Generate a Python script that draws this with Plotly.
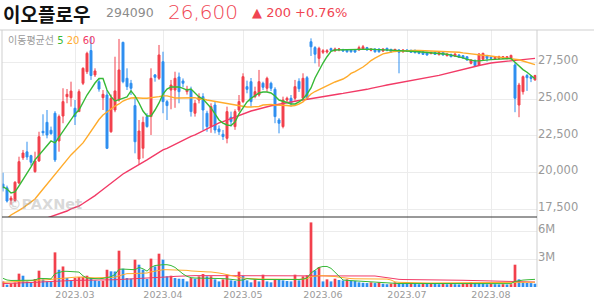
import plotly.graph_objects as go
import pandas as pd

# ---------------- data ----------------
krx_holidays = ["2023-03-01", "2023-05-01", "2023-05-05", "2023-05-29", "2023-06-06", "2023-08-15"]
dates = [d.strftime("%Y-%m-%d") for d in pd.bdate_range("2023-02-03", "2023-08-17")
         if d.strftime("%Y-%m-%d") not in krx_holidays]

month_start_dates = ["2023-03-02", "2023-04-03", "2023-05-02", "2023-06-01", "2023-07-03", "2023-08-01"]
month_labels = ["2023.03", "2023.04", "2023.05", "2023.06", "2023.07", "2023.08"]

open_ = [
    19200, 18950, 18100, 18080, 19280, 21000, 21400, 21140, 20050, 20780,
    22800, 23410, 22870, 24030, 22140, 23840, 25160, 25090, 24370, 24140,
    26070, 26860, 28300, 26640, 26180, 25090, 25270, 22770, 24250, 24930,
    28860, 26410, 26070, 24550, 20910, 21640, 23800, 23800, 26640, 26410,
    27540, 24820, 25610, 25610, 26500, 26230, 25500, 25610, 24030, 24930,
    25160, 24030, 23120, 24590, 22960, 22600, 22320, 23760, 23120, 24250,
    24820, 25840, 26180, 25160, 25270, 26070, 25730, 26070, 25660, 23570,
    23120, 24930, 25050, 25050, 26200, 25050, 26450, 28900, 28500, 27770,
    28180, 28200, 28430, 28290, 28340, 28360, 28340, 28330, 28320, 28340,
    28400, 28500, 28320, 28410, 28400, 28270, 28450, 28380, 28290, 28340,
    28220, 28340, 28320, 28320, 28270, 28220, 28180, 28090, 28180, 28040,
    28180, 27950, 28040, 27920, 28000, 27950, 27880, 27430, 27610, 27320,
    27700, 27930, 27840, 27750, 27770, 27780, 27770, 27770, 27320, 24590,
    25500, 26600, 26520, 26300]
high = [
    19980, 19100, 18400, 19400, 21070, 21530, 22090, 21200, 21410, 22770,
    23960, 24250, 23120, 24170, 23940, 25730, 25680, 26180, 24930, 25660,
    27160, 28220, 29240, 27090, 26410, 25610, 25610, 25300, 27880, 29090,
    28900, 27090, 26300, 25050, 23570, 23800, 24030, 27090, 26700, 28680,
    28220, 24930, 26300, 26860, 26800, 26400, 25900, 25840, 24930, 25390,
    25390, 24200, 24710, 24800, 23200, 22890, 24480, 24140, 24300, 25270,
    26750, 26250, 26430, 25840, 26980, 26180, 26520, 26180, 25800, 23700,
    25160, 25160, 25270, 26300, 26410, 26750, 26570, 29130, 28600, 28560,
    28400, 28400, 28500, 28500, 28450, 28420, 28400, 28380, 28380, 28630,
    28680, 28550, 28450, 28450, 28450, 28450, 28500, 28420, 28420, 28400,
    28400, 28380, 28350, 28350, 28300, 28250, 28200, 28220, 28200, 28250,
    28200, 28100, 28080, 28100, 28050, 27980, 27900, 27700, 27700, 28110,
    28150, 28000, 27900, 27900, 27950, 27920, 27920, 28020, 27500, 26100,
    26600, 26700, 26600, 26650]
low = [
    18700, 17950, 17800, 18000, 19200, 20850, 20850, 20460, 19980, 20710,
    22500, 22320, 22560, 20710, 21410, 23350, 24710, 24480, 23230, 24140,
    25950, 26700, 26300, 26500, 25500, 24250, 21590, 22700, 24100, 24820,
    26070, 25610, 25270, 21300, 20550, 20960, 23050, 22550, 26180, 26300,
    24030, 23570, 24300, 24400, 24710, 25800, 25300, 23800, 23800, 24700,
    22890, 22770, 22700, 22660, 22550, 22210, 21980, 23120, 22900, 24110,
    24730, 25390, 24480, 25050, 25160, 25610, 25500, 25540, 23350, 22660,
    23000, 24800, 24480, 24900, 25480, 24930, 24930, 27930, 27430, 27200,
    28070, 28100, 28250, 28200, 28250, 28200, 28150, 28150, 28150, 28300,
    28350, 28300, 28250, 28150, 28150, 28200, 28250, 28150, 28200, 26750,
    28150, 28200, 28150, 28100, 28050, 28000, 27950, 28050, 28000, 27950,
    27950, 27900, 27850, 27880, 27800, 27750, 27600, 27360, 27200, 27300,
    27650, 27550, 27700, 27700, 27700, 27720, 27700, 27700, 24100, 23760,
    25300, 25550, 26150, 26250]
close = [
    18950, 18050, 18250, 19330, 20730, 21320, 21050, 20690, 20780, 22430,
    22700, 22550, 22640, 20850, 23800, 24820, 25320, 25540, 23800, 25500,
    27090, 28110, 26600, 26910, 25680, 25320, 21640, 25050, 25550, 26980,
    26180, 25840, 25730, 22090, 22820, 23410, 23120, 26410, 26480, 28000,
    24820, 24550, 25950, 26410, 25500, 26070, 25660, 24140, 24710, 25160,
    24250, 23120, 24480, 22890, 22770, 22440, 24140, 23460, 24140, 24820,
    26520, 25660, 24820, 25500, 26180, 25800, 26410, 25730, 23800, 23350,
    24930, 25050, 24710, 25840, 25700, 26410, 25050, 28560, 28050, 28450,
    28290, 28290, 28320, 28410, 28410, 28270, 28220, 28220, 28200, 28500,
    28560, 28340, 28400, 28220, 28220, 28410, 28320, 28220, 28380, 28180,
    28340, 28250, 28180, 28160, 28110, 28040, 28000, 28180, 28040, 28180,
    28000, 28070, 27880, 28070, 27840, 27790, 27660, 27660, 27270, 28070,
    28110, 27770, 27770, 27840, 27880, 27880, 27880, 27970, 25050, 25950,
    26520, 26450, 26400, 26600]

# moving averages of price
ma5 = [
    19010, 18870, 18600, 18670, 19080, 19480, 19960, 20370, 20850, 21190,
    21460, 21800, 22140, 22010, 22410, 22750, 23230, 23640, 23980, 24250,
    24800, 25270, 25680, 26090, 26400, 26400, 25610, 25160, 24860, 24970,
    25070, 25140, 25550, 25210, 24730, 24180, 23840, 23840, 24250, 24730,
    25340, 25680, 25820, 25840, 25820, 25730, 25610, 25680, 25410, 25140,
    25000, 24730, 24390, 23980, 23570, 23360, 23230, 23190, 23430, 23980,
    24390, 24800, 25040, 25210, 25410, 25480, 25480, 25410, 25210, 24930,
    24820, 24760, 24660, 24660, 24800, 25000, 25340, 25750, 26430, 26980,
    27450, 27880, 28240, 28340, 28350, 28360, 28370, 28380, 28390, 28400,
    28420, 28410, 28400, 28380, 28370, 28360, 28360, 28350, 28340, 28320,
    28300, 28280, 28260, 28240, 28220, 28200, 28160, 28140, 28120, 28100,
    28080, 28050, 27990, 27940, 27880, 27800, 27700, 27640, 27600, 27600,
    27640, 27660, 27680, 27700, 27720, 27730, 27740, 27760, 27500, 27250,
    27000, 26820, 26580, 26380]
ma20 = [
    16750, 16850, 17100, 17240, 17410, 17580, 17780, 17990, 18190, 18530,
    18870, 19210, 19550, 19890, 20230, 20580, 20850, 21190, 21460, 21730,
    22010, 22410, 22820, 23230, 23600, 23910, 24120, 24290, 24520, 24660,
    24860, 24970, 25070, 25090, 25050, 25050, 25050, 25070, 25100, 25160,
    25210, 25210, 25140, 25070, 25070, 25070, 25070, 25100, 25090, 25000,
    25000, 24930, 24880, 24830, 24760, 24730, 24710, 24660, 24590, 24520,
    24480, 24460, 24460, 24460, 24490, 24590, 24630, 24630, 24590, 24590,
    24590, 24560, 24520, 24560, 24660, 24800, 25070, 25340, 25510, 25650,
    25750, 25890, 26020, 26160, 26260, 26360, 26520, 26740, 26870, 27010,
    27180, 27380, 27620, 27790, 27930, 28070, 28130, 28200, 28240, 28270,
    28290, 28300, 28300, 28300, 28300, 28290, 28290, 28280, 28280, 28270,
    28260, 28240, 28220, 28200, 28180, 28140, 28100, 28070, 28040, 28010,
    27980, 27960, 27930, 27900, 27870, 27840, 27810, 27780, 27740, 27670,
    27590, 27500, 27420, 27340]
ma60 = [
    None, None, None, None, None, None, None, None, None, None,
    16800, 16900, 16980, 17050, 17170, 17260, 17370, 17510, 17610, 17710,
    17880, 18050, 18220, 18420, 18630, 18840, 19080, 19280, 19480, 19690,
    19890, 20050, 20200, 20370, 20540, 20710, 20850, 21020, 21190, 21360,
    21530, 21640, 21780, 21900, 22070, 22210, 22310, 22450, 22550, 22690,
    22820, 22960, 23090, 23230, 23370, 23460, 23570, 23670, 23770, 23880,
    23980, 24080, 24180, 24250, 24330, 24420, 24480, 24540, 24590, 24650,
    24690, 24750, 24800, 24840, 24900, 24930, 24980, 25020, 25070, 25120,
    25170, 25220, 25260, 25300, 25340, 25380, 25420, 25480, 25530, 25570,
    25610, 25660, 25720, 25760, 25820, 25890, 25950, 26000, 26060, 26090,
    26140, 26180, 26230, 26270, 26320, 26380, 26430, 26460, 26530, 26610,
    26680, 26740, 26810, 26870, 26940, 27010, 27080, 27150, 27210, 27280,
    27350, 27400, 27450, 27490, 27520, 27550, 27590, 27620, 27640, 27660,
    27690, 27720, 27750, 27770]

# volume (millions of shares)
volume = [
    0.60, 0.25, 0.35, 0.48, 1.43, 1.21, 0.60, 0.48, 0.86, 1.75,
    0.82, 0.60, 0.55, 3.71, 1.85, 2.20, 0.96, 0.71, 0.96, 1.07,
    1.10, 1.21, 0.96, 0.71, 0.64, 0.66, 1.85, 1.68, 1.66, 3.89,
    1.96, 0.96, 0.89, 2.93, 2.39, 1.85, 0.86, 3.04, 2.21, 3.57,
    2.93, 1.14, 1.21, 0.96, 0.89, 0.87, 0.60, 0.96, 0.89, 1.14,
    1.39, 1.14, 1.15, 0.82, 0.60, 0.82, 1.32, 0.71, 0.64, 1.64,
    1.21, 0.71, 0.50, 0.82, 0.60, 1.32, 0.60, 0.50, 0.82, 0.80,
    0.71, 0.64, 0.60, 1.32, 0.71, 1.14, 1.25, 6.92, 1.78, 2.14,
    0.60, 0.82, 0.60, 0.89, 0.75, 0.70, 0.82, 0.68, 0.64, 0.50,
    0.45, 0.42, 0.50, 0.42, 0.50, 0.35, 0.30, 0.36, 0.50, 0.45,
    0.40, 0.38, 0.42, 0.35, 0.30, 0.38, 0.33, 0.36, 0.32, 0.30,
    0.34, 0.30, 0.33, 0.30, 0.28, 0.32, 0.40, 0.50, 0.45, 0.42,
    0.38, 0.30, 0.32, 0.30, 0.28, 0.30, 0.27, 0.30, 2.39, 0.82,
    0.50, 0.43, 0.42, 0.35]
vol_ma5 = [
    0.93, 0.75, 0.70, 0.72, 0.73, 0.73, 0.72, 0.72, 0.75, 0.92,
    0.95, 0.90, 0.87, 1.43, 1.55, 1.68, 1.68, 1.68, 1.68, 1.60,
    1.20, 0.96, 0.92, 0.89, 0.89, 0.92, 0.98, 1.10, 1.35, 1.90,
    1.92, 1.92, 1.88, 1.85, 2.10, 1.95, 1.70, 2.10, 2.30, 2.38,
    2.39, 2.39, 2.30, 2.10, 1.70, 1.40, 1.14, 1.00, 0.96, 0.96,
    0.96, 0.96, 0.96, 0.95, 0.93, 0.90, 0.87, 0.80, 0.73, 0.72,
    0.75, 0.90, 0.85, 0.80, 0.80, 0.80, 0.80, 0.78, 0.76, 0.73,
    0.73, 0.72, 0.72, 0.75, 0.80, 0.85, 0.96, 1.50, 1.85, 2.10,
    2.20, 2.20, 2.00, 1.60, 1.10, 0.75, 0.71, 0.68, 0.65, 0.62,
    0.58, 0.55, 0.50, 0.47, 0.45, 0.43, 0.42, 0.40, 0.38, 0.37,
    0.38, 0.38, 0.37, 0.36, 0.36, 0.35, 0.35, 0.36, 0.37, 0.37,
    0.36, 0.35, 0.35, 0.36, 0.37, 0.38, 0.40, 0.40, 0.39, 0.38,
    0.37, 0.36, 0.35, 0.35, 0.34, 0.34, 0.34, 0.36, 0.60, 0.70,
    0.74, 0.77, 0.80, 0.82]
vol_ma20 = [
    0.50, 0.52, 0.54, 0.56, 0.60, 0.60, 0.62, 0.64, 0.66, 0.70,
    0.74, 0.78, 0.82, 0.87, 0.92, 0.96, 1.00, 1.04, 1.05, 1.07,
    1.07, 1.05, 1.00, 0.98, 0.98, 0.98, 1.00, 1.02, 1.05, 1.20,
    1.35, 1.43, 1.43, 1.45, 1.45, 1.48, 1.50, 1.62, 1.72, 1.80,
    1.85, 1.85, 1.85, 1.85, 1.85, 1.82, 1.78, 1.72, 1.68, 1.66,
    1.64, 1.62, 1.61, 1.58, 1.50, 1.42, 1.32, 1.20, 1.10, 0.98,
    0.95, 0.92, 0.88, 0.87, 0.86, 0.85, 0.84, 0.83, 0.82, 0.82,
    0.82, 0.81, 0.80, 0.80, 0.82, 0.85, 0.90, 1.10, 1.18, 1.21,
    1.21, 1.20, 1.18, 1.12, 1.05, 0.98, 0.93, 0.90, 0.88, 0.87,
    0.87, 0.87, 0.87, 0.87, 0.86, 0.86, 0.85, 0.75, 0.55, 0.50,
    0.48, 0.46, 0.45, 0.44, 0.43, 0.43, 0.43, 0.43, 0.43, 0.43,
    0.43, 0.43, 0.43, 0.43, 0.43, 0.43, 0.44, 0.44, 0.44, 0.44,
    0.43, 0.43, 0.43, 0.43, 0.43, 0.43, 0.43, 0.44, 0.48, 0.50,
    0.50, 0.51, 0.51, 0.52]
vol_ma60 = [
    0.36, 0.37, 0.38, 0.40, 0.42, 0.43, 0.45, 0.47, 0.50, 0.52,
    0.55, 0.58, 0.60, 0.64, 0.66, 0.68, 0.70, 0.71, 0.71, 0.71,
    0.71, 0.71, 0.71, 0.71, 0.71, 0.72, 0.74, 0.76, 0.78, 0.80,
    0.82, 0.83, 0.84, 0.86, 0.88, 0.90, 0.92, 0.94, 0.96, 0.98,
    1.02, 1.06, 1.10, 1.14, 1.17, 1.19, 1.20, 1.21, 1.22, 1.22,
    1.22, 1.22, 1.22, 1.22, 1.22, 1.22, 1.22, 1.22, 1.22, 1.22,
    1.21, 1.21, 1.21, 1.21, 1.21, 1.21, 1.21, 1.21, 1.21, 1.21,
    1.21, 1.21, 1.21, 1.21, 1.21, 1.21, 1.21, 1.21, 1.22, 1.22,
    1.22, 1.23, 1.24, 1.24, 1.24, 1.24, 1.24, 1.24, 1.23, 1.23,
    1.22, 1.21, 1.20, 1.18, 1.12, 1.05, 0.95, 0.88, 0.84, 0.82,
    0.80, 0.80, 0.79, 0.79, 0.79, 0.79, 0.79, 0.79, 0.78, 0.78,
    0.77, 0.76, 0.75, 0.74, 0.73, 0.72, 0.71, 0.70, 0.69, 0.68,
    0.67, 0.66, 0.65, 0.63, 0.62, 0.60, 0.58, 0.56, 0.56, 0.55,
    0.54, 0.53, 0.53, 0.53]

price_ticks = [17500, 20000, 22500, 25000, 27500]
volume_ticks = [3, 6]
volume_tick_labels = ["3M", "6M"]

# ---------------- styling ----------------
UP = "#f2404c"
DOWN = "#2e8ff0"
C5 = "#36b936"
C20 = "#ffab2b"
C60 = "#f23a66"
GRID = "#ececec"
LABEL = "#9a9a9a"

W, H = 594, 304
ML, MR, MT, MB = 2, 57, 30, 17
PW, PH = W - ML - MR, H - MT - MB
VOL_FRAC = 70 / PH


def ax(px):
    return (px - ML) / PW


def ay(py):
    return (H - MB - py) / PH


x = list(range(len(dates)))
tickvals = [dates.index(d) for d in month_start_dates]
vol_colors = [UP if i == 0 or volume[i] >= volume[i - 1] else DOWN for i in range(len(volume))]

fig = go.Figure()
fig.add_trace(go.Candlestick(
    x=x, open=open_, high=high, low=low, close=close,
    increasing=dict(line=dict(color=UP, width=1), fillcolor=UP),
    decreasing=dict(line=dict(color=DOWN, width=1), fillcolor=DOWN),
    xaxis="x", yaxis="y", hoverinfo="skip", showlegend=False))
for arr, col in [(ma60, C60), (ma20, C20), (ma5, C5)]:
    fig.add_trace(go.Scatter(x=x, y=arr, mode="lines", line=dict(color=col, width=1.4),
                             xaxis="x", yaxis="y", hoverinfo="skip", showlegend=False))

fig.add_trace(go.Bar(x=x, y=volume, marker=dict(color=vol_colors, line=dict(width=0)), width=0.68,
                     xaxis="x2", yaxis="y2", hoverinfo="skip", showlegend=False))
for arr, col in [(vol_ma60, C60), (vol_ma20, C20), (vol_ma5, C5)]:
    fig.add_trace(go.Scatter(x=x, y=arr, mode="lines", line=dict(color=col, width=1),
                             xaxis="x2", yaxis="y2", hoverinfo="skip", showlegend=False))

xr = [-0.25, 133.5]
tickfont = dict(family="DejaVu Sans", size=11.5, color=LABEL)
fig.update_layout(
    width=W, height=H, margin=dict(l=ML, r=MR, t=MT, b=MB),
    paper_bgcolor="white", plot_bgcolor="white", showlegend=False,
    xaxis=dict(domain=[0, 1], anchor="y", range=xr, tickvals=tickvals, showticklabels=False,
               showgrid=True, gridcolor=GRID, zeroline=False, showline=False, ticks="",
               rangeslider=dict(visible=False)),
    xaxis2=dict(domain=[0, 1], anchor="y2", range=xr, tickvals=tickvals, ticktext=month_labels,
                showgrid=True, gridcolor=GRID, zeroline=False, showline=False, ticks="",
                tickfont=dict(family="DejaVu Sans", size=9.5, color=LABEL)),
    yaxis=dict(domain=[VOL_FRAC, 1], anchor="x", side="right", range=[16962, 29700],
               tickvals=price_ticks, tickformat=",d", showgrid=True, gridcolor=GRID,
               zeroline=False, showline=False, ticks="", tickfont=tickfont, ticklabelshift=-2),
    yaxis2=dict(domain=[0, VOL_FRAC], anchor="x2", side="right", range=[0, 7.5],
                tickvals=volume_ticks, ticktext=volume_tick_labels, showgrid=True, gridcolor=GRID,
                zeroline=False, showline=False, ticks="", tickfont=tickfont, ticklabelshift=-2),
    bargap=0.3,
)

shapes = [
    dict(type="line", xref="paper", yref="paper", x0=ax(0), x1=ax(W), y0=1, y1=1,
         line=dict(color="#cfcfcf", width=1)),
    dict(type="line", xref="paper", yref="paper", x0=0, x1=0, y0=0, y1=1,
         line=dict(color="#cfcfcf", width=1)),
    dict(type="line", xref="paper", yref="paper", x0=1, x1=1, y0=0, y1=1,
         line=dict(color="#cfcfcf", width=1)),
    dict(type="line", xref="paper", yref="paper", x0=0, x1=1, y0=VOL_FRAC, y1=VOL_FRAC,
         line=dict(color="#333333", width=1)),
]
fig.update_layout(shapes=shapes)

ann = [
    dict(text="이오플로우", x=ax(1), y=ay(13), xanchor="left", yanchor="middle",
         font=dict(family="Noto Sans CJK KR", size=19, color="#111111", weight="bold")),
    dict(text="294090", x=ax(104), y=ay(12.5), xanchor="left", yanchor="middle",
         font=dict(family="DejaVu Sans", size=12.5, color="#8c8c8c")),
    dict(text="26,600", x=ax(166), y=ay(11.5), xanchor="left", yanchor="middle",
         font=dict(family="DejaVu Sans", size=20, color="#f04452", weight=300)),
    dict(text="▲ 200 +0.76%", x=ax(250), y=ay(12.5), xanchor="left", yanchor="middle",
         font=dict(family="DejaVu Sans", size=13, color="#f04452")),
    dict(text=("이동평균선 <span style='color:%s'>5</span> <span style='color:%s'>20</span> "
               "<span style='color:%s'>60</span>") % (C5, C20, C60),
         x=ax(6), y=ay(41), xanchor="left", yanchor="middle",
         font=dict(family="DejaVu Sans, Noto Sans CJK KR", size=10, color="#9a9a9a")),
    dict(text="©PAXNet", x=ax(5), y=ay(204), xanchor="left", yanchor="middle",
         font=dict(family="DejaVu Sans", size=14.5, color="rgba(170,170,170,0.45)", weight="bold")),
]
for a in ann:
    a.update(xref="paper", yref="paper", showarrow=False)
fig.update_layout(annotations=ann)

fig.write_html("out.html")
